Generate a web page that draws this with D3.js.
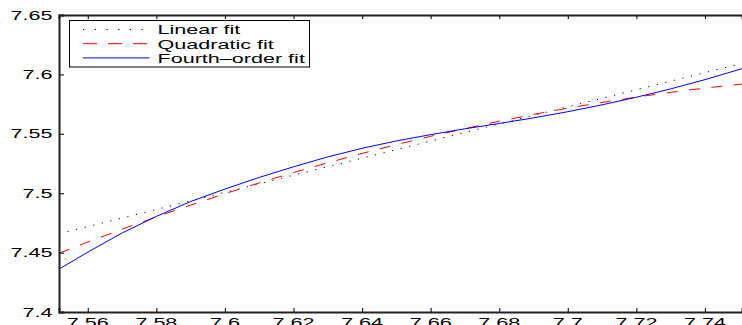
<!DOCTYPE html>
<html>
<head>
<meta charset="utf-8">
<script src="https://cdn.jsdelivr.net/npm/d3@7"></script>
<style>
html,body{margin:0;padding:0;background:#fff;}
svg{display:block;}
text{font-family:"Liberation Sans",Arial,Helvetica,sans-serif;font-size:13px;fill:#000;}
</style>
</head>
<body>
<svg id="chart" width="742" height="325"></svg>
<script>
// ---- data ----
const xValues = [7.5516, 7.56, 7.57, 7.58, 7.59, 7.60, 7.61, 7.62, 7.63, 7.64, 7.65,
                 7.66, 7.67, 7.68, 7.69, 7.70, 7.71, 7.72, 7.73, 7.74, 7.7508];
const linearFit = [7.4659, 7.4719, 7.4791, 7.4863, 7.4935, 7.5007, 7.5079, 7.5151, 7.5223, 7.5295, 7.5367,
                   7.5439, 7.5511, 7.5583, 7.5655, 7.5727, 7.5799, 7.5871, 7.5943, 7.6015, 7.6093];
const quadraticFit = [7.4495, 7.4589, 7.4697, 7.4801, 7.4900, 7.4996, 7.5087, 7.5174, 7.5256, 7.5335, 7.5409,
                      7.5479, 7.5544, 7.5606, 7.5663, 7.5716, 7.5764, 7.5809, 7.5849, 7.5885, 7.5919];
const fourthOrderFit = [7.4361, 7.4504, 7.4665, 7.4805, 7.4930, 7.5035, 7.5133, 7.5222, 7.5306, 7.5378, 7.5440,
                        7.5493, 7.5542, 7.5587, 7.5634, 7.5686, 7.5744, 7.5808, 7.5878, 7.5956, 7.6048];
const seriesNames = ["Linear fit", "Quadratic fit", "Fourth\u2013order fit"];
const xTicks = [7.56, 7.58, 7.60, 7.62, 7.64, 7.66, 7.68, 7.70, 7.72, 7.74];
const xTickLabels = ["7.56", "7.58", "7.6", "7.62", "7.64", "7.66", "7.68", "7.7", "7.72", "7.74"];
const yTicks = [7.40, 7.45, 7.50, 7.55, 7.60, 7.65];
const yTickLabels = ["7.4", "7.45", "7.5", "7.55", "7.6", "7.65"];

// ---- layout ----
const SX = 1.66; // horizontal stretch of the text in the reference
const plot = {left: 59, right: 742, top: 15, bottom: 312};
const svg = d3.select("#chart");

const x = d3.scaleLinear().domain([7.5516, 7.7508]).range([plot.left, plot.right]);
const y = d3.scaleLinear().domain([7.40, 7.65]).range([plot.bottom, plot.top]);

svg.append("defs").append("clipPath").attr("id", "clip")
  .append("rect").attr("x", plot.left).attr("y", plot.top)
  .attr("width", plot.right - plot.left).attr("height", plot.bottom - plot.top);

function stretchedText(g, tx, ty, str, anchor) {
  g.append("text")
    .attr("transform", `translate(${tx},${ty}) scale(${SX},1)`)
    .attr("text-anchor", anchor)
    .text(str);
}

// ---- curves ----
const styles = [
  {data: linearFit, color: "#000", dash: "1.2 7.6", width: 1},
  {data: quadraticFit, color: "#ff0000", dash: "11 11.5", width: 1},
  {data: fourthOrderFit, color: "#0000ff", dash: null, width: 1}
];
const line = d3.line().x((d, i) => x(xValues[i])).y(d => y(d));
const curves = svg.append("g").attr("clip-path", "url(#clip)");
styles.forEach(s => {
  curves.append("path")
    .attr("d", line(s.data))
    .attr("fill", "none")
    .attr("stroke", s.color)
    .attr("stroke-width", s.width)
    .attr("stroke-dasharray", s.dash);
});

// ---- axes ----
const axisColor = "#222";
const bottomAxis = svg.append("g").attr("transform", `translate(0,${plot.bottom})`)
  .call(d3.axisBottom(x).tickValues(xTicks).tickSize(-4).tickFormat(""));
const topAxis = svg.append("g").attr("transform", `translate(0,${plot.top})`)
  .call(d3.axisTop(x).tickValues(xTicks).tickSize(-4).tickFormat(""));
const leftAxis = svg.append("g").attr("transform", `translate(${plot.left},0)`)
  .call(d3.axisLeft(y).tickValues(yTicks).tickSize(-5).tickFormat(""));
[bottomAxis, topAxis, leftAxis].forEach(g => {
  g.select(".domain").attr("stroke", axisColor).attr("stroke-width", 2);
  g.selectAll(".tick line").attr("stroke", axisColor).attr("stroke-width", 1.2);
});

// tick labels
const labels = svg.append("g");
xTicks.forEach((t, i) => stretchedText(labels, x(t), plot.bottom + 14.5, xTickLabels[i], "middle"));
yTicks.forEach((t, i) => stretchedText(labels, 52.5, y(t) + 4.6, yTickLabels[i], "end"));

// ---- legend ----
const legend = svg.append("g");
legend.append("rect")
  .attr("x", 69.5).attr("y", 20.5).attr("width", 240).attr("height", 46.5)
  .attr("fill", "#fff").attr("stroke", "#000").attr("stroke-width", 1);
const legendDash = ["1.2 10.5", "14 11", null];
seriesNames.forEach((name, i) => {
  const ly = 29.5 + i * 14.2;
  legend.append("line")
    .attr("x1", 83).attr("x2", 149.5).attr("y1", ly).attr("y2", ly)
    .attr("stroke", styles[i].color).attr("stroke-width", 1)
    .attr("stroke-dasharray", legendDash[i]);
  stretchedText(legend, 157.5, ly + 4.8, name, "start");
});
</script>
</body>
</html>
